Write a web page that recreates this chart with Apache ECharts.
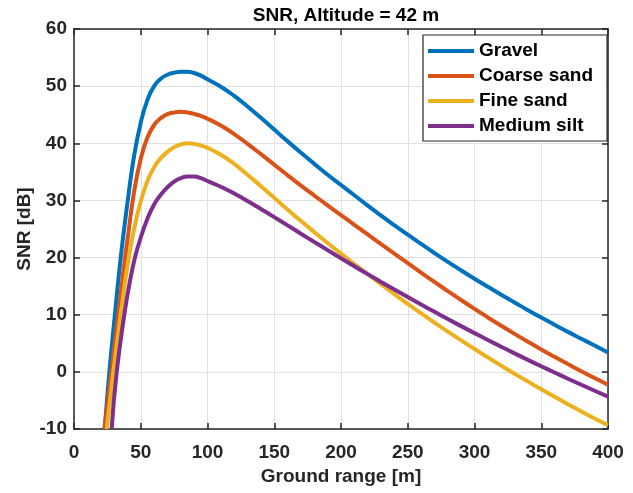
<!DOCTYPE html>
<html>
<head>
<meta charset="utf-8">
<script src="https://cdn.jsdelivr.net/npm/echarts@6/dist/echarts.min.js"></script>
<style>
html,body{margin:0;padding:0;background:#fff;}
#chart{width:633px;height:493px;}
</style>
</head>
<body>
<div id="chart"></div>
<script>
// ---- data ----
const seriesNames = ['Gravel', 'Coarse sand', 'Fine sand', 'Medium silt'];
const xTicks = [0, 50, 100, 150, 200, 250, 300, 350, 400];
const yTicks = [-10, 0, 10, 20, 30, 40, 50, 60];

// [ground range (m), SNR (dB)]
const gravel = [
  [23, -10], [26.5, 0], [30, 8.5], [35, 20], [40, 29.5], [45, 37.8], [50, 43.6], [55, 47.6],
  [60, 50], [65, 51.3], [70, 52], [75, 52.35], [80, 52.5], [85, 52.5], [90, 52.3], [95, 51.85],
  [100, 51.2], [110, 49.9], [120, 48.3], [130, 46.45], [140, 44.45], [150, 42.4], [160, 40.35],
  [170, 38.35], [180, 36.4], [190, 34.5], [200, 32.7], [210, 30.9], [220, 29.1], [230, 27.35],
  [240, 25.65], [250, 24], [260, 22.4], [270, 20.8], [280, 19.25], [290, 17.75], [300, 16.3],
  [310, 14.9], [320, 13.5], [330, 12.15], [340, 10.8], [350, 9.5], [360, 8.25], [370, 7],
  [380, 5.8], [390, 4.6], [400, 3.4]
];
const coarseSand = [
  [22.8, -10], [28, 0], [33, 9.8], [38, 19.5], [40, 23], [45, 31.5], [50, 37.3], [55, 41],
  [60, 43.2], [65, 44.4], [70, 45.1], [75, 45.4], [80, 45.5], [85, 45.4], [90, 45.15], [95, 44.8],
  [100, 44.3], [110, 43.1], [120, 41.6], [130, 39.9], [140, 38.1], [150, 36.25], [160, 34.4],
  [170, 32.6], [180, 30.85], [190, 29.13], [200, 27.43], [210, 25.73], [220, 24.04], [230, 22.36],
  [240, 20.69], [250, 19.03], [260, 17.37], [270, 15.74], [280, 14.14], [290, 12.57], [300, 11.03],
  [310, 9.53], [320, 8.07], [330, 6.65], [340, 5.27], [350, 3.93], [360, 2.63], [370, 1.36],
  [380, 0.12], [390, -1.09], [400, -2.27]
];
const fineSand = [
  [24.5, -10], [29.5, 0], [35, 10], [40, 18.5], [45, 25], [50, 29.8], [55, 33.4], [60, 35.8],
  [65, 37.4], [70, 38.5], [75, 39.3], [80, 39.8], [85, 40], [90, 39.9], [95, 39.6],
  [100, 39.2], [110, 38], [120, 36.4], [130, 34.5], [140, 32.5], [150, 30.45], [160, 28.4],
  [170, 26.4], [180, 24.45], [190, 22.55], [200, 20.7], [210, 18.88], [220, 17.09], [230, 15.33],
  [240, 13.6], [250, 11.9], [260, 10.24], [270, 8.62], [280, 7.04], [290, 5.5], [300, 4],
  [310, 2.53], [320, 1.09], [330, -0.32], [340, -1.7], [350, -3.05], [360, -4.37], [370, -5.66],
  [380, -6.92], [390, -8.15], [400, -9.35]
];
const mediumSilt = [
  [28.2, -10], [32, 0], [38, 10.5], [42, 16], [46, 20.3], [50, 23.5], [55, 26.8], [60, 29.3],
  [65, 31], [70, 32.3], [75, 33.3], [80, 33.9], [85, 34.2], [90, 34.2], [95, 33.9],
  [100, 33.4], [110, 32.4], [120, 31.2], [130, 29.9], [140, 28.5], [150, 27.08], [160, 25.63],
  [170, 24.18], [180, 22.73], [190, 21.3], [200, 19.88], [210, 18.48], [220, 17.1], [230, 15.74],
  [240, 14.4], [250, 13.08], [260, 11.78], [270, 10.5], [280, 9.24], [290, 8], [300, 6.78],
  [310, 5.58], [320, 4.4], [330, 3.24], [340, 2.1], [350, 0.98], [360, -0.12], [370, -1.2],
  [380, -2.26], [390, -3.3], [400, -4.32]
];
const seriesData = [gravel, coarseSand, fineSand, mediumSilt];
const colors = ['#0072BD', '#D95319', '#EDB120', '#7E2F8E'];

// ---- chart ----
const FONT = "'Liberation Sans', Arial, sans-serif";
const DARK = '#262626';
const FS = 19;
const chart = echarts.init(document.getElementById('chart'), null, {renderer: 'canvas'});

const xMin = xTicks[0], xMax = xTicks[xTicks.length - 1], xInt = xTicks[1] - xTicks[0];
const yMin = yTicks[0], yMax = yTicks[yTicks.length - 1], yInt = yTicks[1] - yTicks[0];

function axisCommon(min, max, interval) {
  return {
    type: 'value', min: min, max: max, interval: interval,
    axisLine: {show: true, onZero: false, lineStyle: {color: DARK, width: 1.5}},
    axisTick: {show: true, inside: true, length: 6, lineStyle: {color: DARK, width: 1.5}}
  };
}

const option = {
  animation: false,
  backgroundColor: '#ffffff',
  color: colors,
  title: {
    text: 'SNR, Altitude = 42 m',
    left: 341, top: 1, textAlign: 'center',
    textStyle: {fontFamily: FONT, fontWeight: 'bold', fontSize: FS, color: '#000'}
  },
  grid: {left: 74, right: 25, top: 29, bottom: 64, containLabel: false},
  legend: {
    orient: 'vertical',
    left: 423, top: 35,
    data: seriesNames,
    icon: 'rect',
    itemWidth: 46, itemHeight: 4, itemGap: 5,
    padding: [6, 14, 5, 5],
    backgroundColor: '#ffffff',
    borderColor: DARK, borderWidth: 1.2, borderRadius: 0,
    textStyle: {fontFamily: FONT, fontWeight: 'bold', fontSize: FS, color: '#000', lineHeight: 20}
  },
  xAxis: [
    Object.assign(axisCommon(xMin, xMax, xInt), {
      position: 'bottom',
      name: 'Ground range [m]', nameLocation: 'middle', nameGap: 38, nameMoveOverlap: false,
      nameTextStyle: {fontFamily: FONT, fontWeight: 'bold', fontSize: FS, color: DARK},
      axisLabel: {show: true, margin: 14, fontFamily: FONT, fontWeight: 'bold', fontSize: FS, color: DARK},
      splitLine: {show: true, lineStyle: {color: '#e0e0e0', width: 1}}
    }),
    Object.assign(axisCommon(xMin, xMax, xInt), {
      position: 'top', axisLabel: {show: false}, splitLine: {show: false}
    })
  ],
  yAxis: [
    Object.assign(axisCommon(yMin, yMax, yInt), {
      position: 'left',
      name: 'SNR [dB]', nameLocation: 'middle', nameGap: 40, nameMoveOverlap: false,
      nameTextStyle: {fontFamily: FONT, fontWeight: 'bold', fontSize: FS, color: DARK},
      axisLabel: {show: true, margin: 7, fontFamily: FONT, fontWeight: 'bold', fontSize: FS, color: DARK},
      splitLine: {show: true, lineStyle: {color: '#e0e0e0', width: 1}}
    }),
    Object.assign(axisCommon(yMin, yMax, yInt), {
      position: 'right', axisLabel: {show: false}, splitLine: {show: false}
    })
  ],
  series: seriesNames.map((name, i) => ({
    name: name,
    type: 'line',
    xAxisIndex: 0, yAxisIndex: 0,
    data: seriesData[i],
    showSymbol: false,
    smooth: 0.5,
    lineStyle: {width: 4, color: colors[i]},
    itemStyle: {color: colors[i]},
    clip: true
  }))
};
chart.setOption(option);
</script>
</body>
</html>
